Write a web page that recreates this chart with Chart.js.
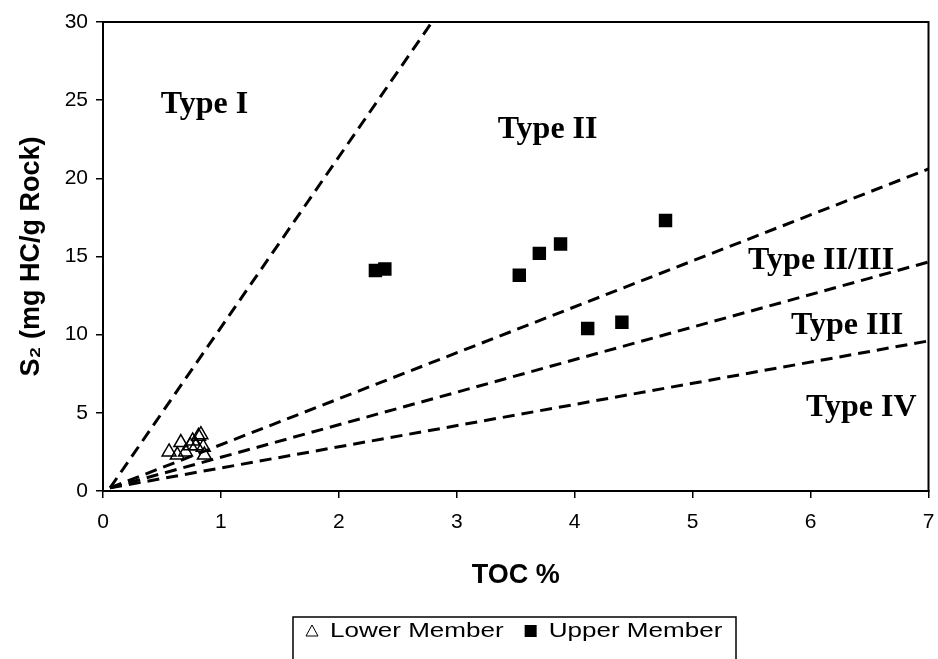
<!DOCTYPE html>
<html>
<head>
<meta charset="utf-8">
<script src="https://cdn.jsdelivr.net/npm/chart.js@4/dist/chart.umd.min.js"></script>
<style>
  html, body { margin: 0; padding: 0; background: #fff; }
  #wrap { width: 938px; height: 659px; }
</style>
</head>
<body>
<div id="wrap"><canvas id="c" width="938" height="659"></canvas></div>
<script>
// TOC (%) and S2 (mg HC/g rock) for each sample
const lowerToc = [0.56, 0.63, 0.66, 0.70, 0.74, 0.76, 0.79, 0.81, 0.83, 0.86, 0.85];
const lowerS2  = [2.5, 2.3, 3.1, 2.5, 2.9, 3.2, 2.9, 3.5, 3.6, 2.3, 2.8];
const upperToc = [2.31, 2.39, 3.53, 3.70, 3.88, 4.11, 4.40, 4.77];
const upperS2  = [14.1, 14.2, 13.8, 15.2, 15.8, 10.4, 10.8, 17.3];

// Kerogen type boundary lines: shared origin and end points
const boundaryStart = { x: 0.06, y: 0.2 };
const boundaryNames = ['Type I limit', 'Type II/III limit', 'Type III limit', 'Type IV limit'];
const boundaryEndToc = [2.79, 7, 7, 7];
const boundaryEndS2  = [30, 20.6, 14.65, 9.6];

// Kerogen type zone labels and their anchor positions (TOC, S2)
const zoneLabels = ['Type I', 'Type II', 'Type II/III', 'Type III', 'Type IV'];
const zoneToc = [0.86, 3.77, 6.09, 6.31, 6.43];
const zoneS2  = [24.7, 23.1, 14.7, 10.6, 5.3];

// Axis ticks
const xTicks = [0, 1, 2, 3, 4, 5, 6, 7];
const yTicks = [0, 5, 10, 15, 20, 25, 30];

const datasets = [];
boundaryNames.forEach((name, i) => {
  datasets.push({
    label: name,
    type: 'line',
    data: [boundaryStart, { x: boundaryEndToc[i], y: boundaryEndS2[i] }],
    borderColor: '#000',
    borderWidth: 3,
    borderDash: [12, 7],
    pointRadius: 0,
    fill: false,
    showLine: true,
    isBoundary: true
  });
});
datasets.push({
  label: 'Lower Member',
  data: lowerToc.map((x, i) => ({ x, y: lowerS2[i] })),
  pointStyle: 'triangle',
  pointRadius: 8,
  pointBorderWidth: 1.5,
  pointBorderColor: '#000',
  pointBackgroundColor: 'rgba(255,255,255,0)',
  showLine: false
});
datasets.push({
  label: 'Upper Member',
  data: upperToc.map((x, i) => ({ x, y: upperS2[i] })),
  pointStyle: 'rect',
  pointRadius: 9.5,
  pointBorderWidth: 0,
  pointBorderColor: '#000',
  pointBackgroundColor: '#000',
  showLine: false
});

const sans = '"Liberation Sans", Arial, sans-serif';

// Frame around the plot area, zone labels and boxed legend
const decorations = {
  id: 'decorations',
  beforeDatasetsDraw(chart) {
    const { ctx, chartArea: a } = chart;
    ctx.save();
    ctx.strokeStyle = '#000';
    ctx.lineWidth = 2;
    ctx.strokeRect(a.left, a.top, a.right - a.left, a.bottom - a.top);
    ctx.restore();
  },
  afterDatasetsDraw(chart) {
    const { ctx } = chart;
    const xs = chart.scales.x, ys = chart.scales.y;
    ctx.save();
    ctx.fillStyle = '#000';
    ctx.font = 'bold 32px "Liberation Serif", "Times New Roman", serif';
    ctx.textAlign = 'center';
    ctx.textBaseline = 'middle';
    zoneLabels.forEach((t, i) => {
      ctx.fillText(t, xs.getPixelForValue(zoneToc[i]), ys.getPixelForValue(zoneS2[i]));
    });
    ctx.restore();

    // legend
    const members = chart.data.datasets.filter(d => !d.isBoundary);
    ctx.save();
    ctx.font = '21px ' + sans;
    ctx.textBaseline = 'middle';
    const boxL = 293, boxR = 736, boxT = 617, boxB = 680;
    ctx.strokeStyle = '#000';
    ctx.lineWidth = 1.5;
    ctx.strokeRect(boxL, boxT, boxR - boxL, boxB - boxT);
    const cy = 631;
    const stretch = 1.24;
    let x = 306;
    members.forEach((d) => {
      ctx.strokeStyle = '#000';
      ctx.fillStyle = '#000';
      ctx.lineWidth = 1;
      if (d.pointStyle === 'triangle') {
        ctx.beginPath();
        ctx.moveTo(x, cy + 5);
        ctx.lineTo(x + 12, cy + 5);
        ctx.lineTo(x + 6, cy - 6);
        ctx.closePath();
        ctx.stroke();
      } else {
        ctx.fillRect(x, cy - 6, 12, 12);
      }
      x += 24;
      ctx.save();
      ctx.translate(x, cy);
      ctx.scale(stretch, 1);
      ctx.fillText(d.label, 0, 0);
      ctx.restore();
      x += ctx.measureText(d.label).width * stretch + 21;
    });
    ctx.restore();
  }
};

new Chart(document.getElementById('c'), {
  type: 'scatter',
  data: { datasets },
  options: {
    responsive: false,
    animation: false,
    layout: { padding: { left: 0, top: 22, right: 9, bottom: 63 } },
    plugins: { legend: { display: false }, tooltip: { enabled: false } },
    scales: {
      x: {
        type: 'linear',
        min: 0, max: 7,
        afterBuildTicks(s) { s.ticks = xTicks.map(v => ({ value: v })); },
        afterFit(s) { s.height = 105; s.paddingLeft = 0; s.paddingRight = 0; },
        grid: { drawOnChartArea: false, drawTicks: true, tickLength: 7, color: '#000', lineWidth: 1.5 },
        border: { display: true, color: '#000', width: 2 },
        ticks: { color: '#000', padding: 12, font: { family: sans, size: 21 } },
        title: { display: true, text: 'TOC %', color: '#000', padding: { top: 24, bottom: 4 },
                 font: { family: sans, size: 27, weight: 'bold' } }
      },
      y: {
        type: 'linear',
        min: 0, max: 30,
        afterBuildTicks(s) { s.ticks = yTicks.map(v => ({ value: v })); },
        afterFit(s) { s.width = 103; s.paddingTop = 0; s.paddingBottom = 0; },
        grid: { drawOnChartArea: false, drawTicks: true, tickLength: 7, color: '#000', lineWidth: 1.5 },
        border: { display: true, color: '#000', width: 2 },
        ticks: { color: '#000', padding: 8, font: { family: sans, size: 21 } },
        title: { display: true, text: 'S\u2082 (mg HC/g Rock)', color: '#000', padding: { top: 15, bottom: 4 },
                 font: { family: sans, size: 27, weight: 'bold' } }
      }
    }
  },
  plugins: [decorations]
});
</script>
</body>
</html>
